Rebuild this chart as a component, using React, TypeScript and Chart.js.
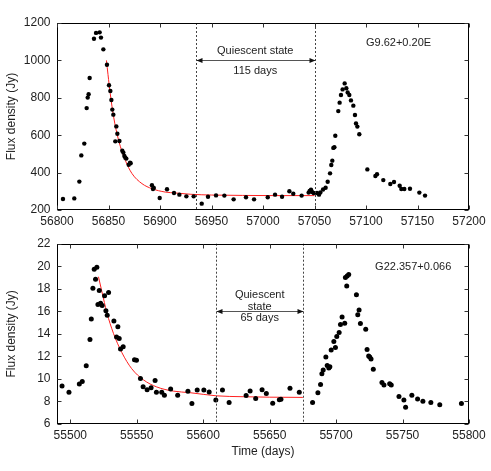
import React, { useEffect, useRef } from "react";
import { Chart, registerables } from "chart.js";
Chart.register(...registerables);

const FONT = '"Liberation Sans", Arial, Helvetica, sans-serif';

// ---------- Top panel: G9.62+0.20E ----------
const TOP_TIME = [
  56805.8, 56816.8, 56821.7, 56823.6, 56826.5, 56828.8, 56829.8, 56830.7, 56831.7, 56835.9,
  56837.9, 56841.4, 56842.7, 56845.0, 56848.5, 56850.5, 56851.8, 56852.8, 56853.7, 56854.7,
  56856.6, 56857.6, 56858.6, 56860.6, 56863.4, 56864.4, 56865.4, 56866.3, 56867.3, 56869.6,
  56870.9, 56871.5, 56892.2, 56893.2, 56894.0, 56899.7, 56906.8, 56913.6, 56918.8, 56925.6,
  56932.7, 56940.5, 56946.6, 56954.4, 56962.5, 56971.5, 56983.5, 56991.3, 57004.6, 57011.7,
  57018.5, 57025.6, 57029.4, 57037.5, 57044.3, 57045.3, 57046.6, 57047.6, 57049.2, 57052.4,
  57054.4, 57055.7, 57058.3, 57060.8, 57062.8, 57065.1, 57066.3, 57067.3, 57068.3, 57069.3,
  57070.2, 57073.1, 57074.4, 57075.7, 57077.3, 57079.3, 57080.9, 57082.2, 57083.8, 57085.4,
  57087.7, 57089.3, 57090.3, 57091.6, 57093.5, 57101.3, 57109.1, 57110.7, 57116.8, 57123.6,
  57127.2, 57132.7, 57134.3, 57137.2, 57142.7, 57151.8, 57157.3,
];
const TOP_FLUX = [
  259, 262, 352, 492, 555, 745, 801, 819, 906, 1116,
  1147, 1150, 1122, 1059, 977, 867, 836, 788, 737, 710,
  567, 647, 608, 569, 517, 507, 489, 480, 475, 442,
  453, 450, 332, 312, 318, 264, 311, 291, 282, 273,
  273, 234, 271, 278, 277, 257, 268, 257, 268, 282,
  271, 300, 287, 277, 293, 302, 309, 296, 291, 291,
  282, 294, 310, 319, 351, 396, 441, 464, 532, 536,
  597, 729, 774, 815, 845, 877, 851, 829, 815, 786,
  758, 708, 663, 646, 605, 417, 382, 391, 360, 339,
  350, 330, 312, 312, 314, 293, 277,
];
const TOP_FIT_TIME = [56848, 56849.5, 56851.7, 56855, 56859.8, 56866.3, 56872.8, 56882.5, 56892.2, 56905, 56915, 56930, 56950, 56980, 57010, 57050];
const TOP_FIT_FLUX = [1000, 925, 822, 697, 573, 466, 395, 341, 314, 296, 291, 284, 280, 278, 277, 277];
const TOP_X_TICKS = [56800, 56850, 56900, 56950, 57000, 57050, 57100, 57150, 57200];
const TOP_Y_TICKS = [200, 400, 600, 800, 1000, 1200];
const TOP_QUIESCENT = [56935, 57050];
const TOP_ARROW_FLUX = 1000;
const TOP_NOTE_TEXT = ["Quiescent state", "115 days", "G9.62+0.20E"];
const TOP_NOTE_TIME = [56992.5, 56992.5, 57131.6];
const TOP_NOTE_FLUX = [1049, 945, 1095];

// ---------- Bottom panel: G22.357+0.066 ----------
const BOT_TIME = [
  55493.8, 55499.0, 55506.8, 55509.0, 55512.0, 55514.8, 55515.8, 55517.0, 55518.0, 55519.0,
  55520.0, 55520.8, 55521.8, 55522.8, 55524.0, 55525.8, 55526.8, 55527.8, 55528.8, 55532.8,
  55534.8, 55535.8, 55536.8, 55537.8, 55539.8, 55548.3, 55549.8, 55552.8, 55554.8, 55557.8,
  55560.8, 55563.8, 55564.8, 55568.8, 55570.8, 55575.5, 55580.8, 55588.5, 55591.5, 55595.5,
  55600.5, 55604.5, 55609.5, 55614.5, 55619.5, 55632.3, 55635.3, 55639.5, 55644.3, 55647.5,
  55652.3, 55657.3, 55658.5, 55665.3, 55672.3, 55682.3, 55686.3, 55688.3, 55689.3, 55690.3,
  55692.3, 55693.3, 55694.5, 55695.3, 55696.3, 55698.3, 55699.5, 55700.5, 55702.3, 55703.3,
  55704.5, 55706.5, 55707.0, 55708.0, 55708.3, 55709.5, 55715.3, 55716.3, 55717.3, 55718.3,
  55722.3, 55723.3, 55724.5, 55725.3, 55726.3, 55728.0, 55734.5, 55736.0, 55740.3, 55741.5,
  55747.3, 55751.0, 55752.3, 55757.0, 55761.3, 55765.3, 55771.3, 55778.0, 55794.3,
];
const BOT_FLUX = [
  9.38, 8.81, 9.55, 9.78, 11.17, 13.5, 15.32, 18.05, 19.73, 18.85,
  19.9, 16.6, 17.85, 16.71, 16.51, 17.37, 16.06, 15.66, 17.68, 15.15,
  13.73, 14.64, 13.59, 12.65, 12.85, 11.71, 11.65, 10.03, 9.3, 9.04,
  9.21, 9.86, 8.81, 8.81, 8.56, 9.1, 8.56, 8.9, 7.82, 9.01,
  9.01, 8.84, 8.13, 9.01, 7.9, 8.53, 8.93, 8.27, 9.04, 8.7,
  7.85, 8.16, 8.19, 9.18, 8.81, 7.9, 8.78, 9.5, 10.46, 10.8,
  11.94, 11.2, 10.97, 11.09, 12.56, 13.33, 12.79, 13.76, 14.13, 14.84,
  15.49, 14.95, 19.0, 18.25, 19.13, 19.27, 17.48, 15.69, 16.12, 14.92,
  14.41, 12.62, 12.03, 11.94, 11.77, 10.86, 9.69, 9.47, 9.58, 9.47,
  8.44, 8.13, 7.48, 8.56, 8.22, 8.02, 7.9, 7.7, 7.82,
];
const BOT_FIT_TIME = [55521.2, 55523.8, 55527.5, 55532.5, 55538.8, 55546.2, 55555, 55565, 55577.5, 55590, 55610, 55630, 55650, 55675];
const BOT_FIT_FLUX = [19.07, 17.74, 15.89, 14.04, 12.34, 10.91, 9.92, 9.29, 8.92, 8.78, 8.5, 8.42, 8.38, 8.36];
const BOT_X_TICKS = [55500, 55550, 55600, 55650, 55700, 55750, 55800];
const BOT_Y_TICKS = [6, 8, 10, 12, 14, 16, 18, 20, 22];
const BOT_QUIESCENT = [55610, 55675];
const BOT_ARROW_FLUX = 16;
const BOT_NOTE_TEXT = ["Quiescent", "state", "65 days", "G22.357+0.066"];
const BOT_NOTE_TIME = [55642.5, 55642.5, 55642.5, 55758];
const BOT_NOTE_FLUX = [17.45, 16.42, 15.38, 19.93];

type PanelSpec = {
  time: number[]; flux: number[]; fitTime: number[]; fitFlux: number[];
  xTicks: number[]; yTicks: number[]; quiescent: number[]; arrowFlux: number;
  noteText: string[]; noteTime: number[]; noteFlux: number[];
  xMin: number; xMax: number; yMin: number; yMax: number;
  height: number; top: number; padTop: number; xAxisH: number;
  xLabelPad: number; xTitle: string | null; pointR: number;
};

const framePlugin = {
  id: "frame",
  afterDatasetsDraw(chart: any, _args: any, opts: any) {
    const spec: PanelSpec = opts.spec;
    const { ctx, chartArea: a, scales } = chart;
    const xs = scales.x, ys = scales.y;
    ctx.save();
    // dashed vertical markers
    ctx.strokeStyle = "#444";
    ctx.lineWidth = 1;
    ctx.setLineDash([2, 2]);
    for (const v of spec.quiescent) {
      const x = Math.round(xs.getPixelForValue(v)) + 0.5;
      ctx.beginPath();
      ctx.moveTo(x, a.top);
      ctx.lineTo(x, a.bottom);
      ctx.stroke();
    }
    ctx.setLineDash([]);
    // double arrow
    const x1 = Math.round(xs.getPixelForValue(spec.quiescent[0])) + 0.5;
    const x2 = Math.round(xs.getPixelForValue(spec.quiescent[1])) + 0.5;
    const y = Math.round(ys.getPixelForValue(spec.arrowFlux)) + 0.5;
    ctx.strokeStyle = "#555";
    ctx.beginPath();
    ctx.moveTo(x1, y);
    ctx.lineTo(x2, y);
    ctx.stroke();
    ctx.fillStyle = "#111";
    const hl = 6, hw = 2.5;
    ctx.beginPath();
    ctx.moveTo(x1, y); ctx.lineTo(x1 + hl, y - hw); ctx.lineTo(x1 + hl, y + hw); ctx.closePath(); ctx.fill();
    ctx.beginPath();
    ctx.moveTo(x2, y); ctx.lineTo(x2 - hl, y - hw); ctx.lineTo(x2 - hl, y + hw); ctx.closePath(); ctx.fill();
    // notes
    ctx.fillStyle = "#222";
    ctx.font = `11px ${FONT}`;
    ctx.textAlign = "center";
    ctx.textBaseline = "middle";
    spec.noteText.forEach((t, i) => {
      ctx.fillText(t, xs.getPixelForValue(spec.noteTime[i]), ys.getPixelForValue(spec.noteFlux[i]));
    });
    // frame
    const L = Math.round(a.left) + 0.5, R = Math.round(a.right) - 0.5;
    const T = Math.round(a.top) + 0.5, B = Math.round(a.bottom) - 0.5;
    ctx.strokeStyle = "#000";
    ctx.lineWidth = 1;
    ctx.strokeRect(L, T, R - L, B - T);
    // inward ticks on all sides
    const tl = 4;
    ctx.strokeStyle = "#333";
    ctx.beginPath();
    for (const v of spec.xTicks) {
      const x = Math.round(xs.getPixelForValue(v)) + 0.5;
      ctx.moveTo(x, B); ctx.lineTo(x, B - tl);
      ctx.moveTo(x, T); ctx.lineTo(x, T + tl);
    }
    for (const v of spec.yTicks) {
      const yy = Math.round(ys.getPixelForValue(v)) + 0.5;
      ctx.moveTo(L, yy); ctx.lineTo(L + tl, yy);
      ctx.moveTo(R, yy); ctx.lineTo(R - tl, yy);
    }
    ctx.stroke();
    ctx.restore();
  },
};

function Panel({ spec }: { spec: PanelSpec }) {
  const ref = useRef<HTMLCanvasElement>(null);
  useEffect(() => {
    const canvas = ref.current!;
    const chart = new Chart(canvas, {
      type: "scatter",
      data: {
        datasets: [
          {
            data: spec.time.map((t, i) => ({ x: t, y: spec.flux[i] })),
            pointRadius: spec.pointR,
            pointBackgroundColor: "#000",
            pointBorderWidth: 0,
            backgroundColor: "#000",
            borderColor: "#000",
          },
          {
            data: spec.fitTime.map((t, i) => ({ x: t, y: spec.fitFlux[i] })),
            showLine: true,
            pointRadius: 0,
            borderColor: "#ff2020",
            borderWidth: 1,
            cubicInterpolationMode: "monotone",
          } as any,
        ],
      },
      options: {
        responsive: false,
        animation: false,
        events: [],
        layout: { padding: { top: spec.padTop, right: 22, left: 0, bottom: 0 } },
        plugins: {
          legend: { display: false },
          tooltip: { enabled: false },
          frame: { spec },
        } as any,
        scales: {
          x: {
            type: "linear",
            min: spec.xMin,
            max: spec.xMax,
            grid: { display: false, drawTicks: false },
            border: { display: false },
            afterBuildTicks: (s: any) => { s.ticks = spec.xTicks.map((v) => ({ value: v })); },
            afterFit: (s: any) => { s.height = spec.xAxisH; },
            ticks: {
              callback: (v: any) => String(v),
              color: "#222",
              font: { family: FONT, size: 12 },
              padding: spec.xLabelPad,
              maxRotation: 0,
              autoSkip: false,
            },
            title: spec.xTitle
              ? { display: true, text: spec.xTitle, color: "#222", font: { family: FONT, size: 12 }, padding: { top: 0, bottom: 12 } }
              : { display: false },
          },
          y: {
            type: "linear",
            min: spec.yMin,
            max: spec.yMax,
            grid: { display: false, drawTicks: false },
            border: { display: false },
            afterBuildTicks: (s: any) => { s.ticks = spec.yTicks.map((v) => ({ value: v })); },
            afterFit: (s: any) => { s.width = 57; },
            ticks: {
              callback: (v: any) => String(v),
              color: "#222",
              font: { family: FONT, size: 12 },
              padding: 6.5,
              autoSkip: false,
            },
            title: { display: true, text: "Flux density (Jy)", color: "#222", font: { family: FONT, size: 12 }, padding: { top: 4.8, bottom: 0 } },
          },
        },
      },
      plugins: [framePlugin],
    });
    return () => chart.destroy();
  }, [spec]);
  return (
    <canvas
      ref={ref}
      width={491}
      height={spec.height}
      style={{ position: "absolute", left: 0, top: spec.top, width: 491, height: spec.height, display: "block" }}
    />
  );
}

const TOP_SPEC: PanelSpec = {
  time: TOP_TIME, flux: TOP_FLUX, fitTime: TOP_FIT_TIME, fitFlux: TOP_FIT_FLUX,
  xTicks: TOP_X_TICKS, yTicks: TOP_Y_TICKS, quiescent: TOP_QUIESCENT, arrowFlux: TOP_ARROW_FLUX,
  noteText: TOP_NOTE_TEXT, noteTime: TOP_NOTE_TIME, noteFlux: TOP_NOTE_FLUX,
  xMin: 56800, xMax: 57200, yMin: 200, yMax: 1200,
  height: 230, top: 0, padTop: 23, xAxisH: 20, xLabelPad: 4, xTitle: null, pointR: 2.2,
};

const BOT_SPEC: PanelSpec = {
  time: BOT_TIME, flux: BOT_FLUX, fitTime: BOT_FIT_TIME, fitFlux: BOT_FIT_FLUX,
  xTicks: BOT_X_TICKS, yTicks: BOT_Y_TICKS, quiescent: BOT_QUIESCENT, arrowFlux: BOT_ARROW_FLUX,
  noteText: BOT_NOTE_TEXT, noteTime: BOT_NOTE_TIME, noteFlux: BOT_NOTE_FLUX,
  xMin: 55490, xMax: 55800, yMin: 6, yMax: 22,
  height: 241, top: 230, padTop: 7, xAxisH: 47, xLabelPad: 4.5, xTitle: "Time (days)", pointR: 2.5,
};

export default function App() {
  return (
    <div style={{ position: "absolute", left: 0, top: 0, width: 491, height: 471, background: "#fff" }}>
      <Panel spec={TOP_SPEC} />
      <Panel spec={BOT_SPEC} />
    </div>
  );
}
